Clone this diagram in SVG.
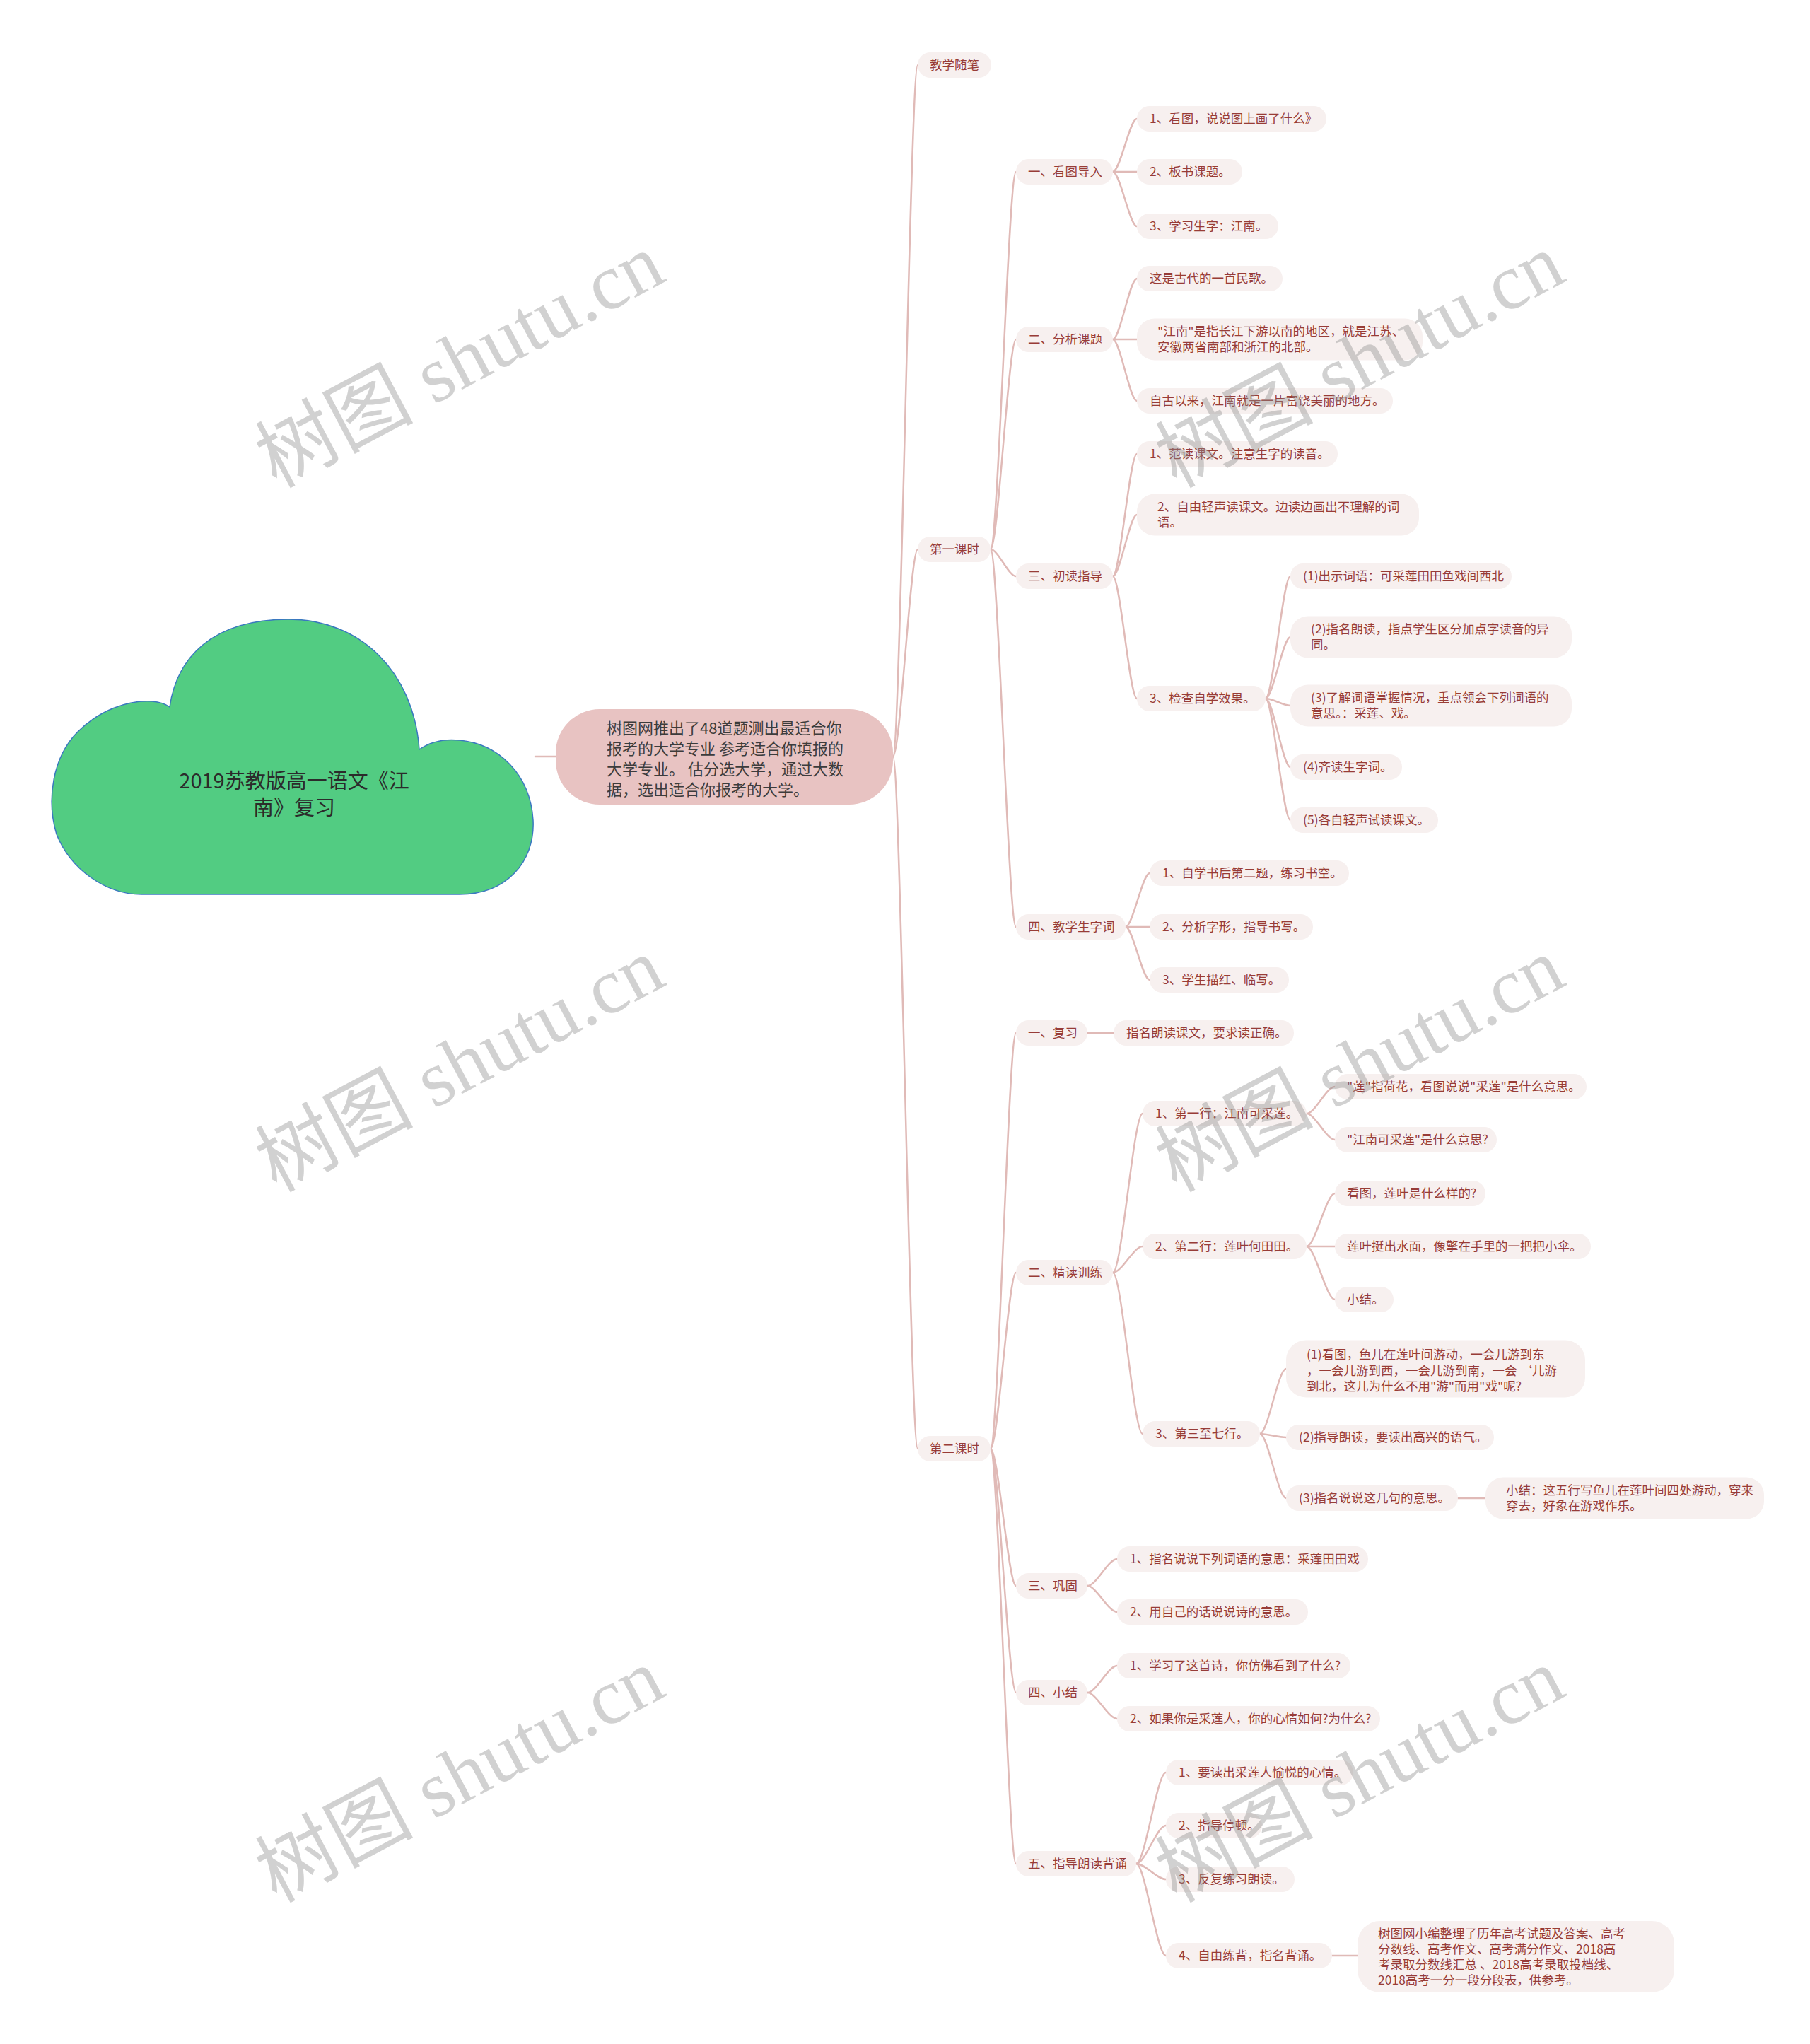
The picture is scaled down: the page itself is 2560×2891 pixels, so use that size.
<svg xmlns="http://www.w3.org/2000/svg" width="2560" height="2891" viewBox="0 0 2560 2891">
<style>
.n rect{fill:#f7f0ef}
.t{font-family:"Noto Sans CJK SC","Noto Sans",sans-serif;font-size:17.5px;fill:#983c37}
.c path{fill:none;stroke:#e0bab7;stroke-width:2.5;stroke-linecap:round}
.wm{font-family:"Liberation Serif","Noto Sans CJK SC",serif;font-size:112px;fill:#8c8c8c;fill-opacity:0.4}
</style>
<rect width="2560" height="2891" fill="#ffffff"/>

<g id="connectors" class="c">
<path d="M757 1070 H786"/>
<path d="M1263 1070 C1273.5 1070 1287.5 92 1298 92"/>
<path d="M1263 1070 C1273.5 1070 1287.5 777 1298 777"/>
<path d="M1263 1070 C1273.5 1070 1287.5 2049 1298 2049"/>
<path d="M1401 777 C1411.8 777 1426.2 243 1437 243"/>
<path d="M1401 777 C1411.8 777 1426.2 480 1437 480"/>
<path d="M1401 777 C1411.8 777 1426.2 815 1437 815"/>
<path d="M1401 777 C1411.8 777 1426.2 1311 1437 1311"/>
<path d="M1401 2049 C1411.8 2049 1426.2 1461 1437 1461"/>
<path d="M1401 2049 C1411.8 2049 1426.2 1800 1437 1800"/>
<path d="M1401 2049 C1411.8 2049 1426.2 2243 1437 2243"/>
<path d="M1401 2049 C1411.8 2049 1426.2 2394 1437 2394"/>
<path d="M1401 2049 C1411.8 2049 1426.2 2636 1437 2636"/>
<path d="M1574 243 C1584.2 243 1597.8 168 1608 168"/>
<path d="M1574 243 H1608"/>
<path d="M1574 243 C1584.2 243 1597.8 320 1608 320"/>
<path d="M1574 480 C1584.2 480 1597.8 394 1608 394"/>
<path d="M1574 480 H1608"/>
<path d="M1574 480 C1584.2 480 1597.8 567 1608 567"/>
<path d="M1574 815 C1584.2 815 1597.8 642 1608 642"/>
<path d="M1574 815 C1584.2 815 1597.8 728 1608 728"/>
<path d="M1574 815 C1584.2 815 1597.8 988 1608 988"/>
<path d="M1592 1311 C1602.2 1311 1615.8 1235 1626 1235"/>
<path d="M1592 1311 H1626"/>
<path d="M1592 1311 C1602.2 1311 1615.8 1386 1626 1386"/>
<path d="M1790 988 C1800.5 988 1814.5 815 1825 815"/>
<path d="M1790 988 C1800.5 988 1814.5 901 1825 901"/>
<path d="M1790 988 C1800.5 988 1814.5 998 1825 998"/>
<path d="M1790 988 C1800.5 988 1814.5 1085 1825 1085"/>
<path d="M1790 988 C1800.5 988 1814.5 1160 1825 1160"/>
<path d="M1538 1461 H1575"/>
<path d="M1574 1800 C1586.6 1800 1603.4 1575 1616 1575"/>
<path d="M1574 1800 C1586.6 1800 1603.4 1763 1616 1763"/>
<path d="M1574 1800 C1586.6 1800 1603.4 2028 1616 2028"/>
<path d="M1848 1575 C1860 1575 1876 1537 1888 1537"/>
<path d="M1848 1575 C1860 1575 1876 1612 1888 1612"/>
<path d="M1848 1763 C1860 1763 1876 1688 1888 1688"/>
<path d="M1848 1763 H1888"/>
<path d="M1848 1763 C1860 1763 1876 1838 1888 1838"/>
<path d="M1782 2028 C1793.1 2028 1807.9 1936 1819 1936"/>
<path d="M1782 2028 C1793.1 2028 1807.9 2033 1819 2033"/>
<path d="M1782 2028 C1793.1 2028 1807.9 2119 1819 2119"/>
<path d="M2062 2119 H2101"/>
<path d="M1538 2243 C1550.6 2243 1567.4 2205 1580 2205"/>
<path d="M1538 2243 C1550.6 2243 1567.4 2280 1580 2280"/>
<path d="M1538 2394 C1550.6 2394 1567.4 2356 1580 2356"/>
<path d="M1538 2394 C1550.6 2394 1567.4 2431 1580 2431"/>
<path d="M1607 2636 C1619.6 2636 1636.4 2507 1649 2507"/>
<path d="M1607 2636 C1619.6 2636 1636.4 2582 1649 2582"/>
<path d="M1607 2636 C1619.6 2636 1636.4 2658 1649 2658"/>
<path d="M1607 2636 C1619.6 2636 1636.4 2766 1649 2766"/>
<path d="M1884 2766 H1920"/>
</g>

<g id="root">
<path d="M200 1265 C150 1265 100 1230 80 1180 C65 1130 75 1070 110 1035 C140 1005 180 990 215 992 C228 993 236 997 240 1000 C250 930 300 876 408 876 C510 876 585 950 593 1060 C610 1048 630 1045 650 1047 C705 1052 750 1095 754 1160 C757 1220 715 1265 650 1265 Z" fill="#52cc82" stroke="#3a78c0" stroke-width="1.5"/>
<text text-anchor="middle" font-family="Noto Sans CJK SC, Noto Sans, sans-serif" font-size="29" fill="#2b2b2b"><tspan x="416" y="1115">2019苏教版高一语文《江</tspan><tspan x="416" y="1153">南》复习</tspan></text>
</g>

<g id="n-main">
<rect x="786" y="1003" width="477" height="135" rx="62" fill="#e8c3c2"/>
<text font-family="Noto Sans CJK SC, Noto Sans, sans-serif" font-size="22" fill="#3c3c3c">
<tspan x="858" y="1038">树图网推出了48道题测出最适合你</tspan>
<tspan x="858" y="1067">报考的大学专业 参考适合你填报的</tspan>
<tspan x="858" y="1096">大学专业。 估分选大学，通过大数</tspan>
<tspan x="858" y="1125">据，选出适合你报考的大学。</tspan>
</text>
</g>

<g id="n-jxsb" class="n"><rect x="1298" y="74" width="104" height="36" rx="18"/><text class="t" x="1315" y="98">教学随笔</text></g>
<g id="n-dyks" class="n"><rect x="1298" y="759" width="103" height="36" rx="18"/><text class="t" x="1315" y="783">第一课时</text></g>
<g id="n-deks" class="n"><rect x="1298" y="2031" width="103" height="36" rx="18"/><text class="t" x="1315" y="2055">第二课时</text></g>

<g id="n-1-1" class="n"><rect x="1437" y="225" width="137" height="36" rx="18"/><text class="t" x="1454" y="249">一、看图导入</text></g>
<g id="n-1-1-1" class="n"><rect x="1608" y="150" width="268" height="36" rx="18"/><text class="t" x="1626" y="174">1、看图，说说图上画了什么》</text></g>
<g id="n-1-1-2" class="n"><rect x="1608" y="225" width="149" height="36" rx="18"/><text class="t" x="1626" y="249">2、板书课题。</text></g>
<g id="n-1-1-3" class="n"><rect x="1608" y="302" width="200" height="36" rx="18"/><text class="t" x="1626" y="326">3、学习生字：江南。</text></g>

<g id="n-1-2" class="n"><rect x="1437" y="462" width="137" height="36" rx="18"/><text class="t" x="1454" y="486">二、分析课题</text></g>
<g id="n-1-2-1" class="n"><rect x="1608" y="376" width="206" height="36" rx="18"/><text class="t" x="1626" y="400">这是古代的一首民歌。</text></g>
<g id="n-1-2-2" class="n"><rect x="1608" y="450.5" width="404" height="59" rx="25"/><text class="t"><tspan x="1637" y="475">"江南"是指长江下游以南的地区，就是江苏、</tspan><tspan x="1637" y="497">安徽两省南部和浙江的北部。</tspan></text></g>
<g id="n-1-2-3" class="n"><rect x="1608" y="549" width="362" height="36" rx="18"/><text class="t" x="1626" y="573">自古以来，江南就是一片富饶美丽的地方。</text></g>

<g id="n-1-3" class="n"><rect x="1437" y="797" width="137" height="36" rx="18"/><text class="t" x="1454" y="821">三、初读指导</text></g>
<g id="n-1-3-1" class="n"><rect x="1608" y="624" width="284" height="36" rx="18"/><text class="t" x="1626" y="648">1、范读课文。注意生字的读音。</text></g>
<g id="n-1-3-2" class="n"><rect x="1608" y="698.5" width="399" height="59" rx="25"/><text class="t"><tspan x="1637" y="723">2、自由轻声读课文。边读边画出不理解的词</tspan><tspan x="1637" y="745">语。</tspan></text></g>
<g id="n-1-3-3" class="n"><rect x="1608" y="970" width="182" height="36" rx="18"/><text class="t" x="1626" y="994">3、检查自学效果。</text></g>
<g id="n-1-3-3-1" class="n"><rect x="1825" y="797" width="313" height="36" rx="18"/><text class="t" x="1843" y="821">(1)出示词语：可采莲田田鱼戏间西北</text></g>
<g id="n-1-3-3-2" class="n"><rect x="1825" y="871.5" width="398" height="59" rx="25"/><text class="t"><tspan x="1854" y="896">(2)指名朗读，指点学生区分加点字读音的异</tspan><tspan x="1854" y="918">同。</tspan></text></g>
<g id="n-1-3-3-3" class="n"><rect x="1825" y="968.5" width="398" height="59" rx="25"/><text class="t"><tspan x="1854" y="993">(3)了解词语掌握情况，重点领会下列词语的</tspan><tspan x="1854" y="1015">意思。：采莲、戏。</tspan></text></g>
<g id="n-1-3-3-4" class="n"><rect x="1825" y="1067" width="158" height="36" rx="18"/><text class="t" x="1843" y="1091">(4)齐读生字词。</text></g>
<g id="n-1-3-3-5" class="n"><rect x="1825" y="1142" width="209" height="36" rx="18"/><text class="t" x="1843" y="1166">(5)各自轻声试读课文。</text></g>

<g id="n-1-4" class="n"><rect x="1437" y="1293" width="155" height="36" rx="18"/><text class="t" x="1454" y="1317">四、教学生字词</text></g>
<g id="n-1-4-1" class="n"><rect x="1626" y="1217" width="282" height="36" rx="18"/><text class="t" x="1644" y="1241">1、自学书后第二题，练习书空。</text></g>
<g id="n-1-4-2" class="n"><rect x="1626" y="1293" width="231" height="36" rx="18"/><text class="t" x="1644" y="1317">2、分析字形，指导书写。</text></g>
<g id="n-1-4-3" class="n"><rect x="1626" y="1368" width="197" height="36" rx="18"/><text class="t" x="1644" y="1392">3、学生描红、临写。</text></g>

<g id="n-2-1" class="n"><rect x="1437" y="1443" width="101" height="36" rx="18"/><text class="t" x="1454" y="1467">一、复习</text></g>
<g id="n-2-1-1" class="n"><rect x="1575" y="1443" width="255" height="36" rx="18"/><text class="t" x="1593" y="1467">指名朗读课文，要求读正确。</text></g>

<g id="n-2-2" class="n"><rect x="1437" y="1782" width="137" height="36" rx="18"/><text class="t" x="1454" y="1806">二、精读训练</text></g>
<g id="n-2-2-1" class="n"><rect x="1616" y="1557" width="232" height="36" rx="18"/><text class="t" x="1634" y="1581">1、第一行：江南可采莲。</text></g>
<g id="n-2-2-1-1" class="n"><rect x="1888" y="1519" width="356" height="36" rx="18"/><text class="t" x="1905" y="1543">"莲"指荷花，看图说说"采莲"是什么意思。</text></g>
<g id="n-2-2-1-2" class="n"><rect x="1888" y="1594" width="229" height="36" rx="18"/><text class="t" x="1905" y="1618">"江南可采莲"是什么意思?</text></g>
<g id="n-2-2-2" class="n"><rect x="1616" y="1745" width="232" height="36" rx="18"/><text class="t" x="1634" y="1769">2、第二行：莲叶何田田。</text></g>
<g id="n-2-2-2-1" class="n"><rect x="1888" y="1670" width="213" height="36" rx="18"/><text class="t" x="1905" y="1694">看图，莲叶是什么样的?</text></g>
<g id="n-2-2-2-2" class="n"><rect x="1888" y="1745" width="362" height="36" rx="18"/><text class="t" x="1905" y="1769">莲叶挺出水面，像擎在手里的一把把小伞。</text></g>
<g id="n-2-2-2-3" class="n"><rect x="1888" y="1820" width="83" height="36" rx="18"/><text class="t" x="1905" y="1844">小结。</text></g>
<g id="n-2-2-3" class="n"><rect x="1616" y="2010" width="166" height="36" rx="18"/><text class="t" x="1634" y="2034">3、第三至七行。</text></g>
<g id="n-2-2-3-1" class="n"><rect x="1819" y="1895.5" width="423" height="81" rx="28"/><text class="t"><tspan x="1848" y="1922">(1)看图，鱼儿在莲叶间游动，一会儿游到东</tspan><tspan x="1848" y="1945">，一会儿游到西，一会儿游到南，一会 ‘儿游</tspan><tspan x="1848" y="1967">到北，这儿为什么不用"游"而用"戏"呢?</tspan></text></g>
<g id="n-2-2-3-2" class="n"><rect x="1819" y="2015" width="294" height="36" rx="18"/><text class="t" x="1837" y="2039">(2)指导朗读，要读出高兴的语气。</text></g>
<g id="n-2-2-3-3" class="n"><rect x="1819" y="2101" width="243" height="36" rx="18"/><text class="t" x="1837" y="2125">(3)指名说说这几句的意思。</text></g>
<g id="n-2-2-3-3-1" class="n"><rect x="2101" y="2089.5" width="394" height="59" rx="25"/><text class="t"><tspan x="2130" y="2114">小结：这五行写鱼儿在莲叶间四处游动，穿来</tspan><tspan x="2130" y="2136">穿去，好象在游戏作乐。</tspan></text></g>

<g id="n-2-3" class="n"><rect x="1437" y="2225" width="101" height="36" rx="18"/><text class="t" x="1454" y="2249">三、巩固</text></g>
<g id="n-2-3-1" class="n"><rect x="1580" y="2187" width="355" height="36" rx="18"/><text class="t" x="1598" y="2211">1、指名说说下列词语的意思：采莲田田戏</text></g>
<g id="n-2-3-2" class="n"><rect x="1580" y="2262" width="270" height="36" rx="18"/><text class="t" x="1598" y="2286">2、用自己的话说说诗的意思。</text></g>

<g id="n-2-4" class="n"><rect x="1437" y="2376" width="101" height="36" rx="18"/><text class="t" x="1454" y="2400">四、小结</text></g>
<g id="n-2-4-1" class="n"><rect x="1580" y="2338" width="330" height="36" rx="18"/><text class="t" x="1598" y="2362">1、学习了这首诗，你仿佛看到了什么?</text></g>
<g id="n-2-4-2" class="n"><rect x="1580" y="2413" width="372" height="36" rx="18"/><text class="t" x="1598" y="2437">2、如果你是采莲人，你的心情如何?为什么?</text></g>

<g id="n-2-5" class="n"><rect x="1437" y="2618" width="170" height="36" rx="18"/><text class="t" x="1454" y="2642">五、指导朗读背诵</text></g>
<g id="n-2-5-1" class="n"><rect x="1649" y="2489" width="265" height="36" rx="18"/><text class="t" x="1667" y="2513">1、要读出采莲人愉悦的心情。</text></g>
<g id="n-2-5-2" class="n"><rect x="1649" y="2564" width="136" height="36" rx="18"/><text class="t" x="1667" y="2588">2、指导停顿。</text></g>
<g id="n-2-5-3" class="n"><rect x="1649" y="2640" width="182" height="36" rx="18"/><text class="t" x="1667" y="2664">3、反复练习朗读。</text></g>
<g id="n-2-5-4" class="n"><rect x="1649" y="2748" width="235" height="36" rx="18"/><text class="t" x="1667" y="2772">4、自由练背，指名背诵。</text></g>
<g id="n-2-5-4-1" class="n"><rect x="1920" y="2717" width="448" height="101" rx="32"/><text class="t"><tspan x="1949" y="2741">树图网小编整理了历年高考试题及答案、高考</tspan><tspan x="1949" y="2763">分数线、高考作文、高考满分作文、2018高</tspan><tspan x="1949" y="2785">考录取分数线汇总 、2018高考录取投档线、</tspan><tspan x="1949" y="2807">2018高考一分一段分段表，供参考。</tspan></text></g>

<g id="watermarks" class="wm" text-anchor="middle" dominant-baseline="central">
<text transform="translate(650 510) rotate(-28)">树图 shutu.cn</text>
<text transform="translate(1923 510) rotate(-28)">树图 shutu.cn</text>
<text transform="translate(650 1506) rotate(-28)">树图 shutu.cn</text>
<text transform="translate(1923 1506) rotate(-28)">树图 shutu.cn</text>
<text transform="translate(650 2511) rotate(-28)">树图 shutu.cn</text>
<text transform="translate(1923 2511) rotate(-28)">树图 shutu.cn</text>
</g>
</svg>
